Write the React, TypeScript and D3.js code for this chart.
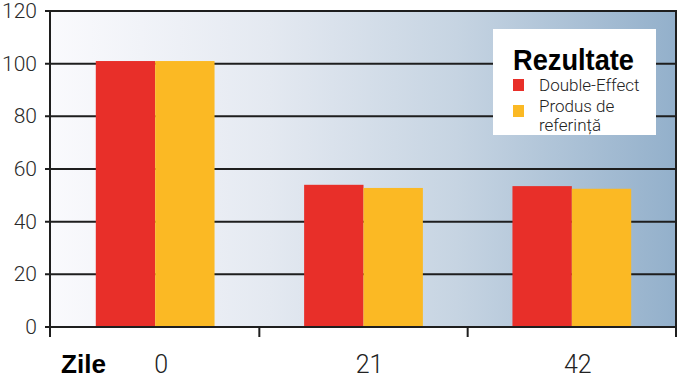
import React from "react";
import * as d3 from "d3";

const categories = ["0", "21", "42"];
const seriesNames = ["Double-Effect", "Produs de referință"];
const doubleEffect = [101, 54, 53.5];
const referenceProduct = [101, 52.8, 52.5];
const yTicks = [0, 20, 40, 60, 80, 100, 120];
const seriesColors = ["#e82f29", "#fbb924"];
const legendTitle = "Rezultate";
const xTitle = "Zile";

export default function App() {
  const W = 678, H = 378;
  const left = 51, right = 676, top = 11, bottom = 327;
  const y = d3.scaleLinear().domain([0, 120]).range([bottom, top]);
  const x0 = d3.scaleBand().domain(categories).range([left, right]).paddingInner(0.43).paddingOuter(0.215);
  const x1 = d3.scaleBand().domain(seriesNames).range([0, x0.bandwidth()]);
  const values = [doubleEffect, referenceProduct];
  const boundaries = [left, ...categories.slice(1).map((c) => x0(c)! - (x0.step() - x0.bandwidth()) / 2), right];
  const light = "'Roboto', 'Liberation Sans', sans-serif";
  const bold = "'Liberation Sans', Arial, sans-serif";

  return (
    <svg width={W} height={H} style={{ position: "absolute", left: 0, top: 0, background: "#fff" }}>
      <defs>
        <linearGradient id="bg" x1="0" x2="1" y1="0" y2="0">
          <stop offset="0" stopColor="#fafafd" />
          <stop offset="0.35" stopColor="#e4e9f1" />
          <stop offset="0.65" stopColor="#c6d4e2" />
          <stop offset="1" stopColor="#93b0cb" />
        </linearGradient>
      </defs>
      <rect x={left} y={top} width={right - left} height={bottom - top} fill="url(#bg)" />
      {yTicks.map((t) => (
        <g key={t}>
          <line x1={left - 6} x2={right} y1={y(t)} y2={y(t)} stroke="#1e1e1e" strokeWidth={2} />
          <text x={37} y={y(t)} textAnchor="end" dominantBaseline="central" fontFamily={light} fontWeight={300} fontSize={21} fill="#2a2a2a">
            {t}
          </text>
        </g>
      ))}
      {categories.map((c, i) => (
        <g key={c}>
          {seriesNames.map((s, j) => (
            <rect key={s} x={x0(c)! + x1(s)!} y={y(values[j][i])} width={x1.bandwidth()} height={y(0) - y(values[j][i])} fill={seriesColors[j]} />
          ))}
          <text x={x0(c)! + x0.bandwidth() / 2 + 6} y={373} textAnchor="middle" fontFamily={light} fontWeight={300} fontSize={25} fill="#222">
            {c}
          </text>
        </g>
      ))}
      <line x1={left - 1} x2={left - 1} y1={top - 1} y2={bottom + 10} stroke="#1e1e1e" strokeWidth={2} />
      <line x1={right} x2={right} y1={top - 1} y2={bottom + 10} stroke="#1e1e1e" strokeWidth={2} />
      <line x1={left - 2} x2={right + 1} y1={bottom} y2={bottom} stroke="#1e1e1e" strokeWidth={2} />
      {boundaries.slice(1, -1).map((b, i) => (
        <line key={i} x1={b} x2={b} y1={bottom} y2={bottom + 10} stroke="#1e1e1e" strokeWidth={2} />
      ))}
      <text x={61} y={373} fontFamily={bold} fontWeight={700} fontSize={25} textLength={45} lengthAdjust="spacingAndGlyphs" fill="#000">
        {xTitle}
      </text>
      <g>
        <rect x={493} y={29} width={163} height={106} fill="#fff" />
        <text x={513} y={70} fontFamily={bold} fontWeight={700} fontSize={30} textLength={121} lengthAdjust="spacingAndGlyphs" fill="#000">
          {legendTitle}
        </text>
        {seriesNames.map((s, j) => (
          <g key={s}>
            <rect x={513} y={79 + j * 26} width={11} height={12} fill={seriesColors[j]} />
          </g>
        ))}
        <text x={539} y={91} fontFamily={light} fontWeight={300} fontSize={17} fill="#222">{seriesNames[0]}</text>
        <text x={539} y={112} fontFamily={light} fontWeight={300} fontSize={17} fill="#222">{seriesNames[1].split(" ").slice(0, 2).join(" ")}</text>
        <text x={539} y={131} fontFamily={light} fontWeight={300} fontSize={17} fill="#222">{seriesNames[1].split(" ").slice(2).join(" ")}</text>
      </g>
    </svg>
  );
}
